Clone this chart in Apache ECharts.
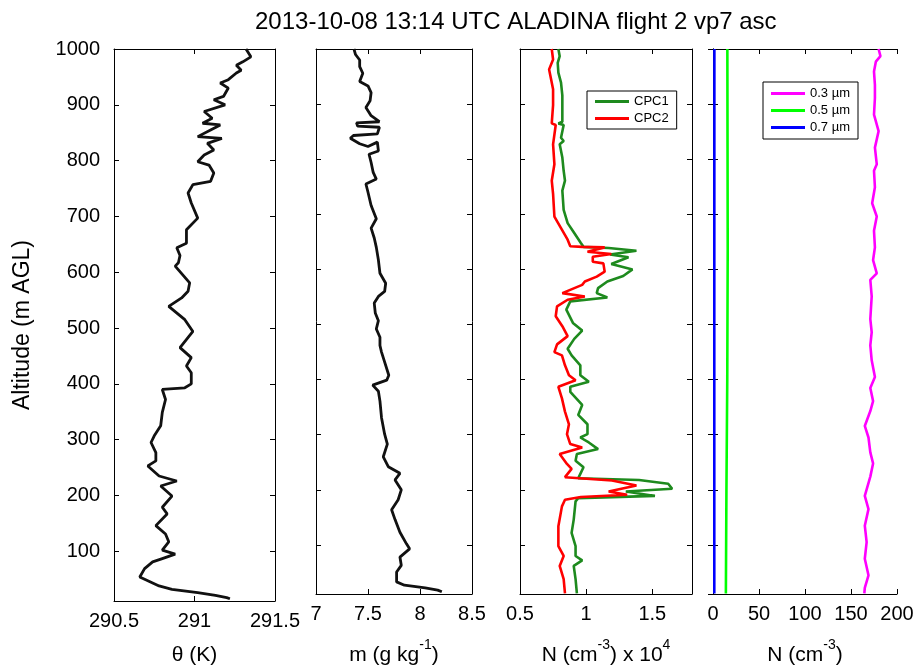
<!DOCTYPE html>
<html>
<head>
<meta charset="utf-8">
<script src="https://cdn.jsdelivr.net/npm/echarts@6/dist/echarts.min.js"></script>
<style>
  html, body { margin: 0; padding: 0; background: #fff; }
  #main { width: 918px; height: 671px; }
</style>
</head>
<body>
<div id="main"></div>
<script>
// potential temperature profile
const thetaAlt = [1000, 986, 977, 971, 962, 957, 945, 939, 930, 915, 909, 900, 888, 876, 867, 864, 855, 843, 840, 831,
  819, 810, 798, 792, 778, 763, 757, 742, 724, 697, 676, 652, 644, 630, 617, 611, 581, 566, 554, 539,
  515, 494, 465, 447, 432, 420, 400, 393, 390, 372, 349, 325, 307, 295, 277, 262, 253, 235, 226, 217,
  199, 179, 167, 146, 131, 117, 102, 95, 87, 81, 69, 54, 46, 38, 32, 26, 21, 17, 15];
const thetaVal = [291.32, 291.35, 291.30, 291.26, 291.29, 291.26, 291.21, 291.16, 291.21, 291.18, 291.12, 291.19, 291.06, 291.11, 291.05, 291.16, 291.10, 291.02, 291.17, 291.08,
  291.12, 291.06, 291.02, 291.09, 291.12, 291.10, 290.99, 290.96, 290.98, 291.02, 290.95, 290.95, 290.89, 290.91, 290.90, 290.88, 290.97, 290.96, 290.92, 290.84,
  290.94, 290.99, 290.91, 290.98, 290.95, 290.98, 290.98, 290.94, 290.80, 290.82, 290.80, 290.79, 290.75, 290.73, 290.76, 290.76, 290.71, 290.78, 290.89, 290.79,
  290.86, 290.80, 290.83, 290.76, 290.82, 290.84, 290.80, 290.88, 290.80, 290.74, 290.69, 290.66, 290.72, 290.78, 290.86, 291.02, 291.13, 291.20, 291.22];

// mixing ratio profile
const mixAlt = [1000, 990, 980, 968, 956, 941, 933, 921, 906, 894, 879, 868, 866, 860, 858, 846, 843, 838, 828, 823,
  831, 815, 809, 794, 776, 764, 755, 740, 716, 692, 675, 657, 640, 617, 593, 575, 560, 551, 539, 521,
  507, 492, 477, 462, 450, 435, 408, 399, 390, 379, 361, 331, 301, 283, 260, 242, 230, 218, 200, 182,
  164, 146, 123, 102, 93, 78, 63, 51, 33, 27, 22, 18, 15];
const mixVal = [7.365, 7.38, 7.42, 7.42, 7.45, 7.42, 7.50, 7.53, 7.52, 7.48, 7.53, 7.61, 7.39, 7.40, 7.61, 7.59, 7.36, 7.33, 7.42, 7.50,
  7.59, 7.60, 7.51, 7.53, 7.55, 7.58, 7.48, 7.50, 7.53, 7.58, 7.53, 7.56, 7.58, 7.60, 7.615, 7.67, 7.66, 7.60, 7.56, 7.57,
  7.60, 7.58, 7.615, 7.615, 7.63, 7.655, 7.70, 7.68, 7.545, 7.60, 7.615, 7.63, 7.66, 7.686, 7.647, 7.695, 7.807, 7.76, 7.82, 7.79,
  7.727, 7.76, 7.807, 7.87, 7.90, 7.807, 7.82, 7.775, 7.775, 7.85, 8.05, 8.17, 8.21];

// CPC counts (x 10^4 cm^-3)
const cpc1Alt = [1000, 987, 975, 957, 939, 916, 898, 868, 865, 862, 839, 833, 827, 803, 779, 761, 743, 708, 684, 666,
  648, 641, 639, 634, 627, 622, 610, 600, 588, 578, 566, 557, 549, 542, 527, 503, 489, 474, 456, 444,
  426, 408, 396, 387, 378, 354, 336, 319, 301, 295, 286, 274, 265, 253, 241, 229, 221, 218, 211, 202,
  197, 189, 185, 179, 146, 122, 98, 80, 72, 62, 38, 12];
const cpc1Val = [0.79, 0.80, 0.785, 0.79, 0.81, 0.82, 0.82, 0.82, 0.79, 0.83, 0.81, 0.83, 0.80, 0.82, 0.83, 0.84, 0.82, 0.83, 0.86, 0.91,
  0.96, 0.98, 1.17, 1.38, 1.18, 1.32, 1.19, 1.35, 1.28, 1.16, 1.09, 1.08, 1.16, 0.88, 0.85, 0.90, 0.97, 0.91, 0.86, 0.89,
  0.956, 0.956, 1.02, 0.88, 0.88, 0.97, 0.94, 1.01, 1.01, 0.956, 1.02, 1.09, 0.93, 0.92, 0.98, 0.956, 0.94, 1.40, 1.62, 1.65,
  1.30, 1.52, 0.94, 0.92, 0.906, 0.89, 0.92, 0.92, 0.97, 0.906, 0.92, 0.93];
const cpc2Alt = [1000, 981, 963, 951, 927, 898, 865, 862, 827, 791, 761, 737, 696, 675, 654, 642, 641, 640, 632, 628,
  623, 614, 611, 596, 587, 578, 572, 557, 551, 545, 533, 515, 497, 479, 464, 450, 444, 426, 408, 399,
  387, 366, 342, 319, 301, 283, 277, 265, 247, 238, 223, 217, 208, 197, 191, 187, 182, 170, 134, 98,
  80, 62, 38, 12];
const cpc2Val = [0.74, 0.75, 0.72, 0.73, 0.75, 0.75, 0.74, 0.77, 0.75, 0.76, 0.74, 0.75, 0.76, 0.81, 0.86, 0.88, 0.97, 1.14, 1.01, 1.19,
  1.05, 1.05, 1.13, 1.14, 1.08, 0.99, 0.97, 0.82, 0.99, 0.86, 0.78, 0.77, 0.82, 0.86, 0.78, 0.76, 0.817, 0.84, 0.87, 0.92,
  0.79, 0.817, 0.84, 0.87, 0.855, 0.88, 0.97, 0.80, 0.855, 0.89, 0.84, 1.195, 1.38, 1.17, 1.31, 0.96, 0.84, 0.817, 0.79, 0.79,
  0.83, 0.80, 0.83, 0.84];

// OPC counts (cm^-3)
const opc03Alt = [1000, 987, 977, 959, 935, 911, 881, 851, 821, 791, 779, 749, 720, 696, 670, 640, 617, 593, 581, 551,
  510, 486, 462, 435, 405, 385, 361, 343, 316, 295, 268, 248, 224, 189, 165, 135, 105, 75, 45, 22, 12];
const opc03Val = [180, 182, 177, 175, 176, 176, 175, 180, 176, 178, 175, 176, 173, 178, 175, 176, 174, 178, 171, 172.5,
  171, 172.5, 171, 172.5, 176, 171, 174, 171, 165, 169, 171, 174, 171, 165, 169, 165, 167, 165, 169, 165, 164.5];
const opc05Alt = [1000, 820, 640, 400, 200, 12];
const opc05Val = [15.6, 15.8, 16.0, 15.5, 14.6, 14.0];
const opc07Alt = [1000, 500, 12];
const opc07Val = [1.5, 1.4, 1.4];

const FONT = '"Liberation Sans", Arial, Helvetica, sans-serif';
const altMin = 11, altMax = 1000;

const panels = [
  { left: 114, width: 161, min: 290.5, max: 291.5, interval: 0.5, name: 'θ (K)' },
  { left: 316, width: 156, min: 7, max: 8.5, interval: 0.5, name: '{b|m (g kg}{s|-1}{b|)}' },
  { left: 520, width: 172, min: 0.5, max: 1.8, interval: 0.5, name: '{b|N (cm}{s|-3}{b|) x 10}{s|4}' },
  { left: 713, width: 184, min: 0, max: 200, interval: 50, name: '{b|N (cm}{s|-3}{b|)}' }
];

function zip(alt, val) {
  return alt.map((a, i) => [val[i], a]);
}

const nameRich = {
  b: { fontSize: 21, fontFamily: FONT, color: '#000', verticalAlign: 'bottom', lineHeight: 28 },
  s: { fontSize: 14, fontFamily: FONT, color: '#000', verticalAlign: 'top', lineHeight: 28 }
};

const grid = [], xAxis = [], yAxis = [];
panels.forEach((p, i) => {
  grid.push({ left: p.left, width: p.width, top: 49, height: 553 });
  const base = {
    type: 'value', gridIndex: i, min: p.min, max: p.max, interval: p.interval,
    splitLine: { show: false },
    axisLine: { lineStyle: { color: '#000', width: 1 } },
    axisTick: { inside: true, length: 5, lineStyle: { color: '#000' } }
  };
  xAxis.push(Object.assign({}, base, {
    position: 'bottom',
    name: p.name, nameLocation: 'middle', nameGap: 44,
    nameTextStyle: { fontSize: 21, fontFamily: FONT, color: '#000', rich: nameRich },
    axisLabel: { fontSize: 20, fontFamily: FONT, color: '#000', margin: 10, showMaxLabel: i !== 2 }
  }));
  xAxis.push(Object.assign({}, base, { position: 'top', axisLabel: { show: false } }));
  const ybase = {
    type: 'value', gridIndex: i, min: altMin, max: altMax,
    splitNumber: 10, minInterval: 100, maxInterval: 100,
    splitLine: { show: false },
    axisLine: { lineStyle: { color: '#000', width: 1 } },
    axisTick: { inside: true, length: 5, lineStyle: { color: '#000' } }
  };
  yAxis.push(Object.assign({}, ybase, {
    position: 'left',
    name: i === 0 ? 'Altitude (m AGL)' : '',
    nameLocation: 'middle', nameGap: 80,
    nameTextStyle: { fontSize: 23, fontFamily: FONT, color: '#000' },
    axisLabel: {
      show: i === 0, fontSize: 20, fontFamily: FONT, color: '#000', margin: 14, showMinLabel: false,
      formatter: v => String(v)
    }
  }));
  yAxis.push(Object.assign({}, ybase, { position: 'right', axisLabel: { show: false } }));
});

function line(name, data, panel, color, width) {
  return {
    name: name, type: 'line', data: data,
    xAxisIndex: panel * 2, yAxisIndex: panel * 2,
    symbol: 'none', smooth: false, animation: false,
    lineStyle: { color: color, width: width || 2.6 },
    itemStyle: { color: color }
  };
}

const legendBase = {
  orient: 'vertical', icon: 'rect', itemWidth: 34, itemHeight: 3, itemGap: 4,
  borderColor: '#000', borderWidth: 1, backgroundColor: '#fff', borderRadius: 0,
  textStyle: { fontSize: 13, fontFamily: FONT, color: '#000' },
  selectedMode: false
};

const chart = echarts.init(document.getElementById('main'));
chart.setOption({
  backgroundColor: '#fff',
  animation: false,
  title: {
    text: '2013-10-08 13:14 UTC ALADINA flight 2 vp7 asc',
    left: 250, top: 5,
    textStyle: { fontSize: 24, fontWeight: 'normal', fontFamily: FONT, color: '#000' }
  },
  legend: [
    Object.assign({}, legendBase, { data: ['CPC1', 'CPC2'], left: 587, top: 91, padding: [4, 8, 4, 8] }),
    Object.assign({}, legendBase, { data: ['0.3 µm', '0.5 µm', '0.7 µm'], left: 763, top: 82, padding: [5, 8, 5, 8] })
  ],
  grid: grid,
  xAxis: xAxis,
  yAxis: yAxis,
  series: [
    line('theta', zip(thetaAlt, thetaVal), 0, '#111', 2.8),
    line('mix', zip(mixAlt, mixVal), 1, '#111', 2.8),
    line('CPC1', zip(cpc1Alt, cpc1Val), 2, '#1e8a1e'),
    line('CPC2', zip(cpc2Alt, cpc2Val), 2, '#ff0000'),
    line('0.3 µm', zip(opc03Alt, opc03Val), 3, '#ff00ff'),
    line('0.5 µm', zip(opc05Alt, opc05Val), 3, '#00ff00'),
    line('0.7 µm', zip(opc07Alt, opc07Val), 3, '#0000ff')
  ]
});
</script>
</body>
</html>
